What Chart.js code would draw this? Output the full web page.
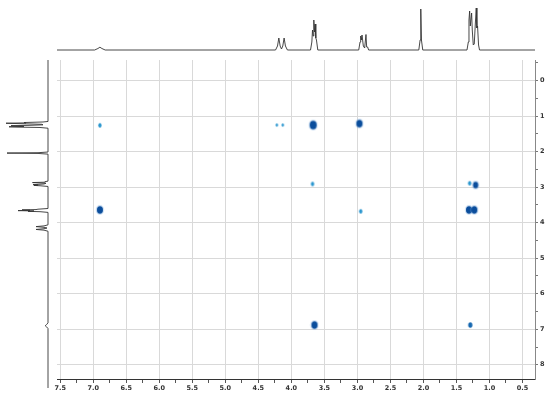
<!DOCTYPE html>
<html>
<head>
<meta charset="utf-8">
<script src="https://cdn.jsdelivr.net/npm/chart.js@4"></script>
<style>
  body { margin: 0; background: #fff; }
  #wrap { position: relative; width: 550px; height: 399px; background: #fff; overflow: hidden; }
  canvas { position: absolute; }
</style>
</head>
<body>
<div id="wrap">
  <canvas id="main" width="550" height="399" style="left:0;top:0"></canvas>
  <canvas id="top" width="478" height="52" style="left:57px;top:0"></canvas>
  <canvas id="side" width="50" height="328" style="left:0;top:60px"></canvas>
</div>
<script>
// 1D proton trace (ppm, height)
const specPpm = [7.55, 6.98, 6.93, 6.90, 6.87, 6.82,
  4.24, 4.21, 4.19, 4.17, 4.15, 4.13, 4.11, 4.09, 4.06,
  3.71, 3.69, 3.68, 3.67, 3.66, 3.65, 3.64, 3.63, 3.62, 3.60,
  2.98, 2.96, 2.95, 2.94, 2.93, 2.91, 2.89, 2.87, 2.86, 2.845, 2.83,
  2.07, 2.05, 2.04, 2.03, 2.01,
  1.34, 1.32, 1.31, 1.30, 1.29, 1.27, 1.26, 1.245, 1.23, 1.215, 1.20, 1.19, 1.18, 1.165, 1.15,
  0.31];
const specInt = [0, 0, 1.5, 2.8, 1.5, 0,
  0, 4, 12, 4, 1, 4, 12, 4, 0,
  0, 8, 20, 14, 30, 18, 26, 12, 10, 0,
  0, 8, 14, 10, 15, 4, 2, 15.5, 3, 3, 0,
  0, 10, 41, 10, 0,
  0, 8, 30, 39, 24, 37, 20, 5, 6, 25, 42, 22, 24, 5, 0,
  0];

// cross peaks: F2 (horizontal), F1 (vertical), relative intensity
const cosyF2 = [6.90, 4.22, 4.13, 3.67, 2.97, 1.30, 1.21, 3.68, 6.90, 2.95, 1.31, 1.23, 3.65, 1.29];
const cosyF1 = [1.26, 1.25, 1.25, 1.25, 1.21, 2.89, 2.94, 2.91, 3.64, 3.68, 3.64, 3.64, 6.88, 6.88];
const cosyInt = [1, 0.5, 0.5, 3, 2.5, 1, 2, 1, 2.5, 1, 2.5, 2.5, 2.5, 1.5];

// axis ticks
const xMajor = [7.5, 7.0, 6.5, 6.0, 5.5, 5.0, 4.5, 4.0, 3.5, 3.0, 2.5, 2.0, 1.5, 1.0, 0.5];
const xMinor = [7.25, 6.75, 6.25, 5.75, 5.25, 4.75, 4.25, 3.75, 3.25, 2.75, 2.25, 1.75, 1.25, 0.75];
const yMajor = [0, 1, 2, 3, 4, 5, 6, 7, 8];
const yMinor = [-0.5, 0.5, 1.5, 2.5, 3.5, 4.5, 5.5, 6.5, 7.5];

const X_MIN = 0.31, X_MAX = 7.55;
const Y_MIN = -0.58, Y_MAX = 8.4;
const SIDE_MAX = Y_MIN + 328 * (Y_MAX - Y_MIN) / 319;
const tickFont = { family: 'DejaVu Sans', size: 6.5, weight: 'bold' };

const blobCache = {};
function blobFor(v) {
    if (blobCache[v]) return blobCache[v];
    const w = 1.5 + v * 1.8, h = 2.5 + v * 2;
    const color = v >= 2 ? '#0a4d9c' : v >= 1.5 ? '#1668b0' : '#2b97cf';
    const c = document.createElement('canvas');
    c.width = Math.ceil(w) + 4;
    c.height = Math.ceil(h) + 4;
    const g = c.getContext('2d');
    if (v >= 2) {
        g.fillStyle = 'rgba(120,170,220,0.35)';
        g.beginPath();
        g.ellipse(c.width / 2, c.height / 2, w / 2 + 1.2, h / 2 + 1.2, 0, 0, 2 * Math.PI);
        g.fill();
    }
    g.fillStyle = color;
    g.beginPath();
    g.ellipse(c.width / 2, c.height / 2, w / 2, h / 2, 0, 0, 2 * Math.PI);
    g.fill();
    blobCache[v] = c;
    return c;
}

const noPlugins = { legend: { display: false }, tooltip: { enabled: false } };

// main 2D plot
new Chart(document.getElementById('main'), {
    type: 'scatter',
    data: {
        datasets: [{
            data: cosyF2.map((x, i) => ({ x, y: cosyF1[i] })),
            pointStyle: ctx => blobFor(cosyInt[ctx.dataIndex]),
            pointRadius: 3,
            borderWidth: 0
        }]
    },
    options: {
        responsive: false,
        animation: false,
        layout: { padding: { left: 57, top: 60, right: 0, bottom: 0 } },
        plugins: noPlugins,
        scales: {
            x: {
                type: 'linear', position: 'bottom', min: X_MIN, max: X_MAX, reverse: true,
                afterBuildTicks: s => { s.ticks = [...xMajor, ...xMinor].sort((a, b) => b - a).map(v => ({ value: v })); },
                afterFit: s => { s.height = 20; },
                ticks: {
                    autoSkip: false, maxRotation: 0, padding: 1, font: tickFont, color: '#333',
                    callback: v => xMajor.includes(v) ? v.toFixed(1) : ''
                },
                grid: {
                    color: c => c.tick && xMajor.includes(c.tick.value) ? '#d9d9d9' : 'rgba(0,0,0,0)',
                    tickColor: '#555', tickLength: 4
                },
                border: { color: '#333', width: 1 }
            },
            y: {
                type: 'linear', position: 'right', min: Y_MIN, max: Y_MAX, reverse: true,
                afterBuildTicks: s => { s.ticks = [...yMajor, ...yMinor].sort((a, b) => a - b).map(v => ({ value: v })); },
                afterFit: s => { s.width = 15; },
                ticks: {
                    autoSkip: false, padding: 2, font: tickFont, color: '#333',
                    callback: v => yMajor.includes(v) ? String(v) : ''
                },
                grid: {
                    color: c => c.tick && yMajor.includes(c.tick.value) ? '#d9d9d9' : 'rgba(0,0,0,0)',
                    tickColor: '#777', tickLength: 3
                },
                border: { color: '#888', width: 1 }
            }
        }
    }
});

// top projection
new Chart(document.getElementById('top'), {
    type: 'scatter',
    data: {
        datasets: [{
            data: specPpm.map((p, i) => ({ x: p, y: specInt[i] })),
            showLine: true, borderColor: '#333', borderWidth: 0.9, pointRadius: 0, tension: 0, clip: false
        }]
    },
    options: {
        responsive: false, animation: false, plugins: noPlugins,
        layout: { padding: 0 },
        scales: {
            x: { display: false, min: X_MIN, max: X_MAX, reverse: true },
            y: { display: false, min: -2, max: 50 }
        }
    }
});

// left projection, baseline carried to the full height of the panel
const sideData = [{ x: 0, y: SIDE_MAX }, ...specPpm.map((p, i) => ({ x: specInt[i], y: p })), { x: 0, y: Y_MIN }];
new Chart(document.getElementById('side'), {
    type: 'scatter',
    data: {
        datasets: [{
            data: sideData,
            showLine: true, borderColor: '#333', borderWidth: 0.9, pointRadius: 0, tension: 0, clip: false
        }]
    },
    options: {
        responsive: false, animation: false, plugins: noPlugins,
        layout: { padding: 0 },
        scales: {
            x: { display: false, min: -2, max: 48, reverse: true },
            y: { display: false, min: Y_MIN, max: SIDE_MAX, reverse: true }
        }
    }
});
</script>
</body>
</html>
